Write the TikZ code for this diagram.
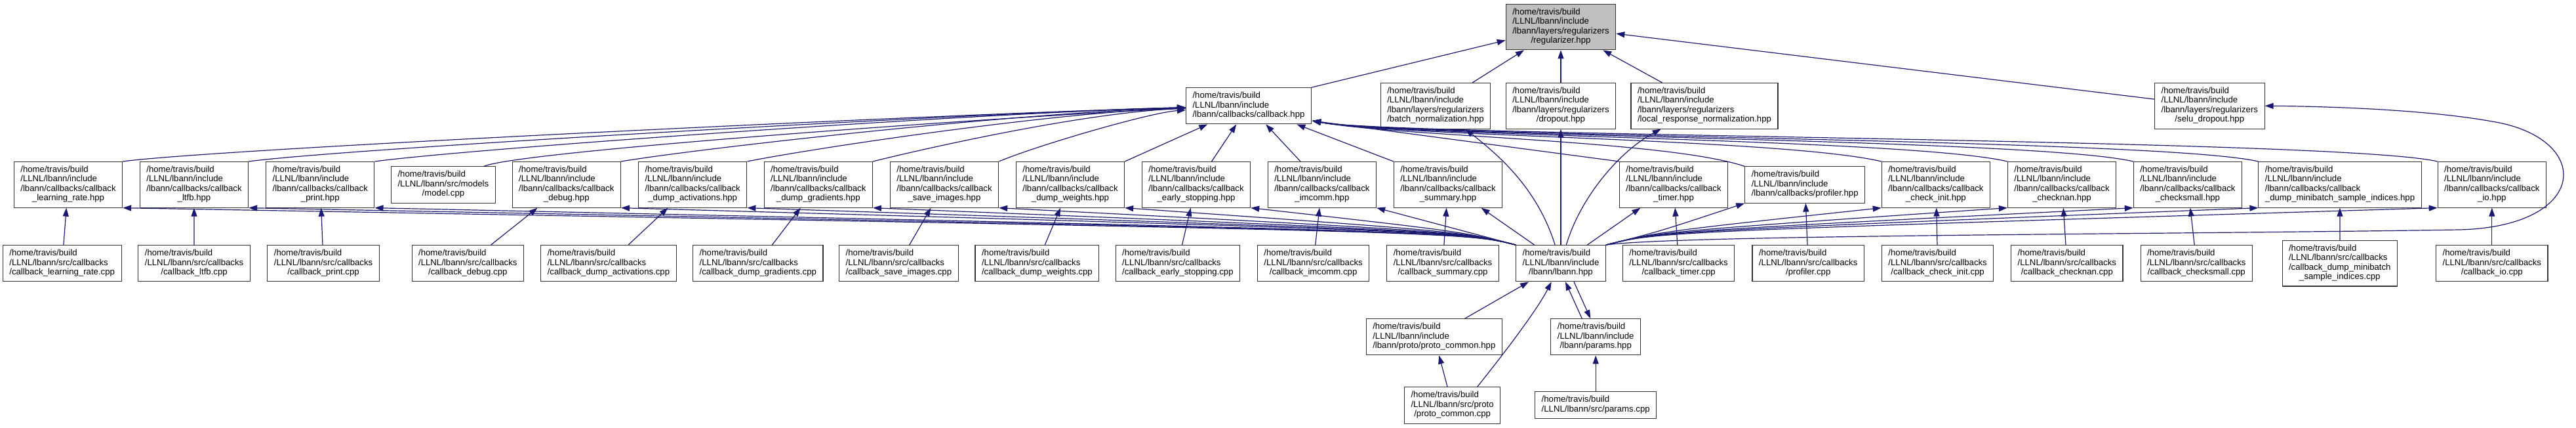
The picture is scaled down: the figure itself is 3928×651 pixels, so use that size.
\documentclass[tikz,border=0pt]{standalone}
\usepackage{fontspec}
\setmainfont{Liberation Sans}
\usepackage{tikz}
\usetikzlibrary{arrows.meta}

\definecolor{edgeblue}{HTML}{191970}
\definecolor{rootgray}{HTML}{BFBFBF}

% file label: left aligned lines, last line centred
\newcommand{\fpath}[2]{\begin{tabular}{@{}l@{}}#1\\\multicolumn{1}{@{}c@{}}{#2}\end{tabular}}
\newcommand{\incdir}{/home/travis/build\\/LLNL/lbann/include}
\newcommand{\srcdir}{/home/travis/build\\/LLNL/lbann/src/callbacks}
\newcommand{\cbdir}{\incdir\\/lbann/callbacks/callback}
\newcommand{\regdir}{\incdir\\/lbann/layers/regularizers}

\begin{document}
\begin{tikzpicture}[x=1pt,y=-1pt,
    file/.style={draw=black!80,fill=white,line width=1.1pt,inner xsep=10pt,inner ysep=6pt,
                 font=\fontsize{13.2}{14.4}\selectfont},
    root/.style={file,fill=rootgray},
    dep/.style={draw=edgeblue,line width=1.2pt,-{Triangle[length=13pt,width=9pt]}}]
    \useasboundingbox (0,0) rectangle (3928,651);

    % top
    \node[root] (reg) at (2380,41) {\fpath{\regdir}{/regularizer.hpp}};

    % second row
    \node[file] (cb) at (1904,161.3) {\fpath{\incdir}{/lbann/callbacks/callback.hpp}};
    \node[file] (bn) at (2189,161.3) {\fpath{\regdir}{/batch\_normalization.hpp}};
    \node[file] (drop) at (2380,161.3) {\fpath{\regdir}{/dropout.hpp}};
    \node[file] (lrn) at (2599,161.3) {\fpath{\regdir}{/local\_response\_normalization.hpp}};
    \node[file] (selu) at (3369.3,161.3) {\fpath{\regdir}{/selu\_dropout.hpp}};

    % callback headers
    \node[file] (lr) at (104,281.3) {\fpath{\cbdir}{\_learning\_rate.hpp}};
    \node[file] (ltfb) at (296,281.3) {\fpath{\cbdir}{\_ltfb.hpp}};
    \node[file] (print) at (488.3,281.3) {\fpath{\cbdir}{\_print.hpp}};
    \node[file] (model) at (675.9,281.5) {\fpath{/home/travis/build\\/LLNL/lbann/src/models}{/model.cpp}};
    \node[file] (debug) at (863.8,281.3) {\fpath{\cbdir}{\_debug.hpp}};
    \node[file] (dact) at (1056.2,281.3) {\fpath{\cbdir}{\_dump\_activations.hpp}};
    \node[file] (dgrad) at (1247.8,281.3) {\fpath{\cbdir}{\_dump\_gradients.hpp}};
    \node[file] (save) at (1440,281.3) {\fpath{\cbdir}{\_save\_images.hpp}};
    \node[file] (dw) at (1632,281.3) {\fpath{\cbdir}{\_dump\_weights.hpp}};
    \node[file] (es) at (1824,281.3) {\fpath{\cbdir}{\_early\_stopping.hpp}};
    \node[file] (imcomm) at (2015.9,281.3) {\fpath{\cbdir}{\_imcomm.hpp}};
    \node[file] (summary) at (2208,281.3) {\fpath{\cbdir}{\_summary.hpp}};
    \node[file] (timer) at (2552,281.3) {\fpath{\cbdir}{\_timer.hpp}};
    \node[file] (profiler) at (2752.2,281.5) {\fpath{\incdir}{/lbann/callbacks/profiler.hpp}};
    \node[file] (chkinit) at (2951.9,281.3) {\fpath{\cbdir}{\_check\_init.hpp}};
    \node[file] (checknan) at (3144,281.3) {\fpath{\cbdir}{\_checknan.hpp}};
    \node[file] (checksmall) at (3335.9,281.3) {\fpath{\cbdir}{\_checksmall.hpp}};
    \node[file] (dmsi) at (3568,281.3) {\fpath{\cbdir}{\_dump\_minibatch\_sample\_indices.hpp}};
    \node[file] (io) at (3799.8,281.3) {\fpath{\cbdir}{\_io.hpp}};

    % sources and lbann.hpp
    \node[file] (lrcpp) at (94.7,401.2) {\fpath{\srcdir}{/callback\_learning\_rate.cpp}};
    \node[file] (ltfbcpp) at (296.1,401.2) {\fpath{\srcdir}{/callback\_ltfb.cpp}};
    \node[file] (printcpp) at (493.1,401.2) {\fpath{\srcdir}{/callback\_print.cpp}};
    \node[file] (debugcpp) at (713.3,401.2) {\fpath{\srcdir}{/callback\_debug.cpp}};
    \node[file] (dactcpp) at (928,401.2) {\fpath{\srcdir}{/callback\_dump\_activations.cpp}};
    \node[file] (dgradcpp) at (1155.8,401.2) {\fpath{\srcdir}{/callback\_dump\_gradients.cpp}};
    \node[file] (savecpp) at (1370.4,401.2) {\fpath{\srcdir}{/callback\_save\_images.cpp}};
    \node[file] (dwcpp) at (1581.4,401.2) {\fpath{\srcdir}{/callback\_dump\_weights.cpp}};
    \node[file] (escpp) at (1795.9,401.2) {\fpath{\srcdir}{/callback\_early\_stopping.cpp}};
    \node[file] (imcommcpp) at (2002.6,401.2) {\fpath{\srcdir}{/callback\_imcomm.cpp}};
    \node[file] (summarycpp) at (2200,401.2) {\fpath{\srcdir}{/callback\_summary.cpp}};
    \node[file] (lbann) at (2380,401.2) {\fpath{\incdir}{/lbann/lbann.hpp}};
    \node[file] (timercpp) at (2559.6,401.2) {\fpath{\srcdir}{/callback\_timer.cpp}};
    \node[file] (profilercpp) at (2757.2,401.2) {\fpath{\srcdir}{/profiler.cpp}};
    \node[file] (chkinitcpp) at (2954.6,401.2) {\fpath{\srcdir}{/callback\_check\_init.cpp}};
    \node[file] (checknancpp) at (3151.8,401.2) {\fpath{\srcdir}{/callback\_checknan.cpp}};
    \node[file] (checksmallcpp) at (3349.3,401.2) {\fpath{\srcdir}{/callback\_checksmall.cpp}};
    \node[file] (dmsicpp) at (3567.8,401.2) {\fpath{\srcdir\\/callback\_dump\_minibatch}{\_sample\_indices.cpp}};
    \node[file] (iocpp) at (3799.8,401.2) {\fpath{\srcdir}{/callback\_io.cpp}};

    % below lbann.hpp
    \node[file] (protohpp) at (2186.8,513.3) {\fpath{\incdir}{/lbann/proto/proto\_common.hpp}};
    \node[file] (paramshpp) at (2433.2,513.3) {\fpath{\incdir}{/lbann/params.hpp}};
    \node[file] (protocpp) at (2214.6,617.5) {\fpath{/home/travis/build\\/LLNL/lbann/src/proto}{/proto\_common.cpp}};
    \node[file] (paramscpp) at (2433.2,617.3) {\fpath{/home/travis/build}{/LLNL/lbann/src/params.cpp}};

    \coordinate (cbin) at (2001,184);

    % into regularizer.hpp
    \draw[dep] (cb.north east) -- (reg);
    \draw[dep] (bn) -- (reg);
    \draw[dep] (drop) -- (reg);
    \draw[dep] (lrn) -- (reg);
    \draw[dep] (selu) -- (reg);

    % into callback.hpp
    \draw[dep] (lr.north east) .. controls +(150,-20) and +(-400,10) .. (cb);
    \draw[dep] (ltfb.north east) .. controls +(150,-20) and +(-400,10) .. (cb);
    \draw[dep] (print.north east) .. controls +(150,-20) and +(-400,10) .. (cb);
    \draw[dep] ([xshift=-18pt]model.north east) .. controls +(60,-25) and +(-300,12) .. (cb);
    \draw[dep] (debug.north east) .. controls +(120,-20) and +(-350,10) .. (cb);
    \draw[dep] (dact.north east) .. controls +(100,-20) and +(-300,10) .. (cb);
    \draw[dep] (dgrad.north east) .. controls +(80,-20) and +(-250,10) .. (cb);
    \draw[dep] (save.north east) .. controls +(60,-25) and +(-150,10) .. (cb);
    \draw[dep] (dw.north east) -- (cb);
    \draw[dep] (es) -- (cb);
    \draw[dep] (imcomm) -- (cb);
    \draw[dep] (summary.north west) -- (cb);
    \draw[dep] (timer.north west) -- (cbin);
    \draw[dep] (profiler.north west) .. controls +(-120,-40) and +(130,24) .. (cbin);
    \draw[dep] (chkinit.north west) .. controls +(-150,-35) and +(130,24) .. (cbin);
    \draw[dep] (checknan.north west) .. controls +(-150,-35) and +(130,24) .. (cbin);
    \draw[dep] (checksmall.north west) .. controls +(-150,-35) and +(130,24) .. (cbin);
    \draw[dep] (dmsi.north west) .. controls +(-150,-35) and +(130,24) .. (cbin);
    \draw[dep] (io.north west) .. controls +(-150,-35) and +(130,24) .. (cbin);

    % lbann.hpp into the headers
    \draw[dep] (lbann.north west) .. controls +(-80,-20) .. (lr.south east);
    \draw[dep] (lbann.north west) .. controls +(-80,-20) .. (ltfb.south east);
    \draw[dep] (lbann.north west) .. controls +(-80,-20) .. (print.south east);
    \draw[dep] (lbann.north west) .. controls +(-80,-20) .. (debug.south east);
    \draw[dep] (lbann.north west) .. controls +(-80,-20) .. (dact.south east);
    \draw[dep] (lbann.north west) .. controls +(-80,-20) .. (dgrad.south east);
    \draw[dep] (lbann.north west) .. controls +(-80,-20) .. (save.south east);
    \draw[dep] (lbann.north west) .. controls +(-80,-20) .. (dw.south east);
    \draw[dep] (lbann.north west) .. controls +(-80,-20) .. (es.south east);
    \draw[dep] (lbann.north west) -- (imcomm.south east);
    \draw[dep] (lbann) -- (summary);
    \draw[dep] (lbann) -- (timer);
    \draw[dep] (lbann.north east) .. controls +(80,-20) .. (profiler.south west);
    \draw[dep] (lbann.north east) .. controls +(80,-20) .. (chkinit.south west);
    \draw[dep] (lbann.north east) .. controls +(80,-20) .. (checknan.south west);
    \draw[dep] (lbann.north east) .. controls +(80,-20) .. (checksmall.south west);
    \draw[dep] (lbann.north east) .. controls +(80,-20) .. (dmsi.south west);
    \draw[dep] (lbann.north east) .. controls +(80,-20) .. (io.south west);
    \draw[dep] (lbann) .. controls (2345,290) and (2290,240) .. (bn);
    \draw[dep] (lbann) -- (drop);
    \draw[dep] (lbann) .. controls (2410,300) and (2470,230) .. (lrn);
    \draw[dep] (lbann.north east) .. controls (2560,358) and (3300,357) .. (3750,350)
        .. controls (3950,345) and (3955,210) .. (3800,185)
        .. controls (3700,167) and (3550,162) .. (selu.east);

    % sources into their headers
    \draw[dep] (lrcpp) -- (lr);
    \draw[dep] (ltfbcpp) -- (ltfb);
    \draw[dep] (printcpp) -- (print);
    \draw[dep] (debugcpp) -- (debug);
    \draw[dep] (dactcpp) -- (dact);
    \draw[dep] (dgradcpp) -- (dgrad);
    \draw[dep] (savecpp) -- (save);
    \draw[dep] (dwcpp) -- (dw);
    \draw[dep] (escpp) -- (es);
    \draw[dep] (imcommcpp) -- (imcomm);
    \draw[dep] (summarycpp) -- (summary);
    \draw[dep] (timercpp) -- (timer);
    \draw[dep] (profilercpp) -- (profiler);
    \draw[dep] (chkinitcpp) -- (chkinit);
    \draw[dep] (checknancpp) -- (checknan);
    \draw[dep] (checksmallcpp) -- (checksmall);
    \draw[dep] (dmsicpp) -- (dmsi);
    \draw[dep] (iocpp) -- (io);

    % bottom part
    \draw[dep] ([xshift=47pt]protohpp.north) -- (lbann);
    \draw[dep] ([xshift=38pt]protocpp.north) .. controls (2300,530) and (2345,470) .. (lbann);
    \draw[dep] ([xshift=-21pt]paramshpp.north) -- ([xshift=7pt]lbann.south);
    \draw[dep] ([xshift=20pt]lbann.south) -- ([xshift=-8pt]paramshpp.north);
    \draw[dep] (protocpp) -- (protohpp);
    \draw[dep] (paramscpp) -- (paramshpp);
\end{tikzpicture}
\end{document}
